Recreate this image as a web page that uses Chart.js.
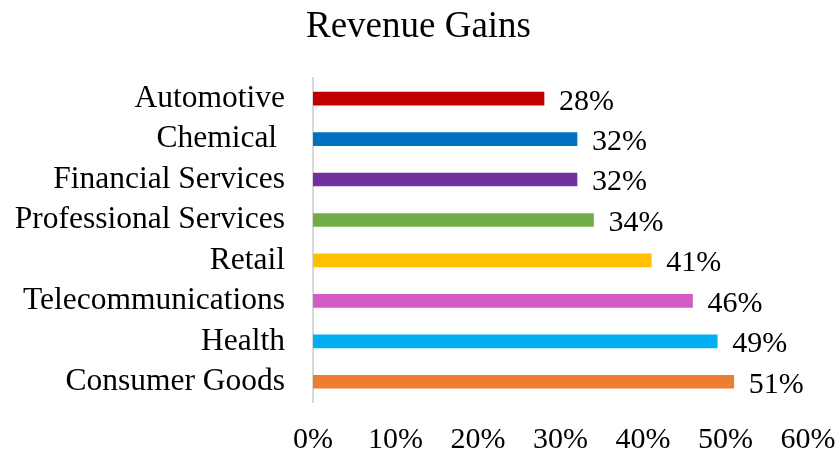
<!DOCTYPE html>
<html>
<head>
<meta charset="utf-8">
<script src="https://cdn.jsdelivr.net/npm/chart.js@4/dist/chart.umd.min.js"></script>
<style>
  html, body { margin: 0; padding: 0; background: #fff; }
  #wrap { width: 837px; height: 453px; }
</style>
</head>
<body>
<div id="wrap"><canvas id="chart"></canvas></div>
<script>
var categories = ["Automotive", "Chemical ", "Financial Services", "Professional Services",
                  "Retail", "Telecommunications", "Health", "Consumer Goods"];
var gains = [28, 32, 32, 34, 41, 46, 49, 51];
var barColors = ["#C00000", "#0070C0", "#7030A0", "#70AD47",
                 "#FFC000", "#D45BC4", "#00B0F0", "#ED7D31"];
var tickValues = [0, 10, 20, 30, 40, 50, 60];

var serif = "'Liberation Serif', 'Times New Roman', serif";

// value labels at the end of each bar
var valueLabels = {
  id: "valueLabels",
  afterDatasetsDraw: function(chart) {
    var ctx = chart.ctx;
    var meta = chart.getDatasetMeta(0);
    ctx.save();
    ctx.font = "30px " + serif;
    ctx.fillStyle = "#000";
    ctx.textBaseline = "middle";
    ctx.textAlign = "left";
    meta.data.forEach(function(bar, i) {
      ctx.fillText(gains[i] + "%", bar.x + 15, bar.y + 3);
    });
    ctx.restore();
  }
};

new Chart(document.getElementById("chart"), {
  type: "bar",
  data: {
    labels: categories,
    datasets: [{
      label: "Revenue Gains",
      data: gains,
      backgroundColor: barColors,
      barThickness: 13
    }]
  },
  options: {
    indexAxis: "y",
    responsive: true,
    maintainAspectRatio: false,
    animation: false,
    layout: { padding: { left: 0, right: 0, top: 0, bottom: 0 } },
    plugins: {
      legend: { display: false },
      tooltip: { enabled: false },
      title: {
        display: true,
        text: "Revenue Gains",
        color: "#000",
        font: { family: serif, size: 37, weight: "normal" },
        padding: { top: 5, bottom: 29 }
      }
    },
    scales: {
      x: {
        min: 0,
        max: 60,
        afterBuildTicks: function(axis) {
          axis.ticks = tickValues.map(function(v) { return { value: v }; });
        },
        afterFit: function(axis) {
          axis.height = 51;
          axis.paddingRight = 29;
        },
        grid: { display: false, drawTicks: false },
        border: { display: false },
        ticks: {
          color: "#000",
          padding: 20,
          maxRotation: 0,
          autoSkip: false,
          font: { family: serif, size: 30 },
          callback: function(v) { return v + "%"; }
        }
      },
      y: {
        grid: { display: false, drawTicks: false },
        border: { display: true, color: "#d9d9d9", width: 2 },
        afterFit: function(axis) { axis.width = 313; },
        ticks: {
          color: "#000",
          padding: 28,
          autoSkip: false,
          font: { family: serif, size: 31.5 }
        }
      }
    }
  },
  plugins: [valueLabels]
});
</script>
</body>
</html>
